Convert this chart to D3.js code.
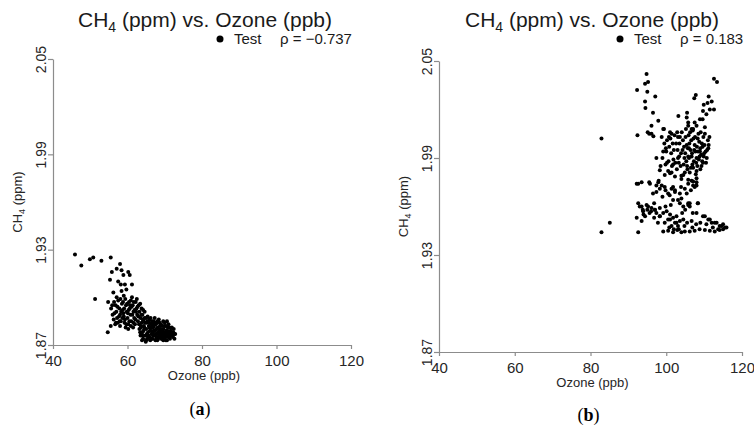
<!DOCTYPE html>
<html>
<head>
<meta charset="utf-8">
<script src="https://cdn.jsdelivr.net/npm/d3@7"></script>
<style>
  body { margin: 0; background: #fff; }
  svg { display: block; font-family: "Liberation Sans", Arial, sans-serif; }
</style>
</head>
<body>
<div id="chart"></div>
<script>
// tick values shared by both panels
const xTicks = [40, 60, 80, 100, 120];
const yTicks = [1.87, 1.93, 1.99, 2.05];

// (a) ozone vs CH4
const ozoneA = [
  45.9, 47.6, 49.9, 50.8, 53.0, 55.5, 58.0, 55.8, 57.1, 58.4, 58.9, 55.3, 60.2, 60.6, 61.2,
  58.2, 59.3, 56.2, 58.4, 59.7, 51.3, 54.8, 54.7, 55.5, 56.7, 58.0, 60.2, 57.5, 59.0,
  55.6, 56.0, 56.3, 56.8, 57.0, 57.2, 57.5, 57.8, 58.0, 58.2, 58.5, 58.7, 59.0, 59.2, 59.4,
  59.6, 59.8, 60.0, 60.2, 60.4, 60.6, 60.8, 61.0, 61.2, 61.4, 61.6, 61.8, 62.0, 62.2, 62.4,
  62.6, 62.8, 63.0, 63.2, 63.5, 63.8, 64.0, 64.3, 64.6, 65.0, 57.4, 59.5, 61.5, 58.8, 60.9,
  62.7, 56.5, 58.3, 60.1, 61.9,
  56.4, 56.9, 57.3, 57.7, 58.1, 58.6, 59.1, 59.3, 59.9, 60.3, 60.5, 60.9, 61.1, 61.3, 61.7,
  62.1, 62.3, 62.9, 63.1, 63.4, 63.6, 64.2, 57.9, 59.7, 61.6, 58.9, 60.7, 62.5, 55.9, 57.1,
  63.2, 63.5, 63.8, 64.0, 64.2, 64.4, 64.6, 64.8, 65.0, 65.1, 65.3, 65.5, 65.7, 65.9, 66.0,
  66.2, 66.4, 66.5, 66.7, 66.9, 67.0, 67.2, 67.4, 67.6, 67.7, 67.9, 68.1, 68.3, 68.5, 68.6,
  68.8, 69.0, 69.2, 69.3, 69.5, 69.7, 69.9, 70.1, 70.3, 70.5, 70.7, 70.9, 71.1, 71.3, 71.5,
  71.8, 72.0, 72.3, 72.5, 64.1, 65.4, 66.1, 67.3, 68.0, 69.6, 70.0, 63.7, 64.9, 66.8, 67.8,
  68.9, 69.8, 70.6, 71.0, 65.6, 66.3, 67.5, 68.4, 63.9,
  63.6, 64.3, 64.7, 65.2, 65.8, 66.0, 66.6, 66.9, 67.1, 67.6, 67.9, 68.2, 68.7, 69.1, 69.4,
  69.9, 70.2, 70.4, 70.8, 71.2, 71.6, 71.9, 72.2, 72.4, 65.0, 66.4, 67.0, 68.2, 69.0, 70.3,
  71.4, 64.5, 65.9, 67.4, 68.6, 69.2, 70.8, 66.2, 64.0, 63.4, 65.3, 68.0, 69.6, 71.7, 72.6,
  72.8, 66.8, 67.8, 69.4, 70.6
];
const ch4A = [
  1.927, 1.920, 1.924, 1.925, 1.923, 1.925, 1.921, 1.916, 1.918, 1.917, 1.914, 1.911, 1.916, 1.914, 1.908,
  1.908, 1.908, 1.903, 1.904, 1.905, 1.899, 1.897, 1.878, 1.882, 1.883, 1.882, 1.880, 1.910, 1.901,
  1.893, 1.889, 1.886, 1.895, 1.891, 1.887, 1.898, 1.893, 1.889, 1.885, 1.896, 1.892, 1.888, 1.884, 1.899,
  1.895, 1.891, 1.887, 1.883, 1.897, 1.893, 1.889, 1.885, 1.900, 1.895, 1.891, 1.887, 1.883, 1.897, 1.893,
  1.889, 1.885, 1.895, 1.891, 1.887, 1.893, 1.889, 1.885, 1.891, 1.887, 1.884, 1.881, 1.881, 1.897, 1.898,
  1.894, 1.890, 1.891, 1.890, 1.892,
  1.897, 1.884, 1.894, 1.888, 1.899, 1.887, 1.893, 1.886, 1.896, 1.892, 1.885, 1.882, 1.894, 1.889, 1.897,
  1.886, 1.891, 1.888, 1.883, 1.896, 1.881, 1.892, 1.885, 1.883, 1.884, 1.890, 1.895, 1.899, 1.895, 1.900,
  1.880, 1.876, 1.884, 1.878, 1.874, 1.882, 1.887, 1.876, 1.880, 1.884, 1.874, 1.878, 1.882, 1.886, 1.875,
  1.879, 1.883, 1.877, 1.874, 1.881, 1.885, 1.876, 1.879, 1.883, 1.874, 1.877, 1.881, 1.875, 1.879, 1.884,
  1.876, 1.874, 1.878, 1.882, 1.876, 1.880, 1.874, 1.878, 1.882, 1.876, 1.879, 1.875, 1.878, 1.881, 1.876,
  1.878, 1.876, 1.878, 1.877, 1.886, 1.888, 1.873, 1.887, 1.873, 1.873, 1.884, 1.889, 1.872, 1.878, 1.880,
  1.880, 1.877, 1.873, 1.883, 1.876, 1.881, 1.873, 1.886, 1.873,
  1.882, 1.879, 1.884, 1.877, 1.884, 1.879, 1.885, 1.876, 1.882, 1.877, 1.884, 1.878, 1.882, 1.876, 1.879,
  1.882, 1.875, 1.879, 1.881, 1.875, 1.879, 1.881, 1.875, 1.880, 1.873, 1.874, 1.879, 1.874, 1.883, 1.873,
  1.874, 1.881, 1.881, 1.884, 1.877, 1.875, 1.877, 1.887, 1.876, 1.878, 1.885, 1.885, 1.885, 1.877, 1.874,
  1.877, 1.883, 1.875, 1.874, 1.885
];

// (b) ozone vs CH4
const ozoneB = [
  94.8, 95.2, 94.4, 92.3, 95.0, 97.1, 94.4, 94.5, 112.6, 113.4, 107.8, 107.4, 111.2, 112.0, 110.9,
  109.9, 111.5, 112.6, 109.7, 110.6, 105.5, 103.2, 105.4, 105.8, 107.5, 108.9, 109.6, 108.0, 106.7, 110.2,
  96.5, 97.9, 96.1, 92.4, 95.1, 96.1, 99.2, 82.9, 97.4, 92.2, 93.5, 95.5, 97.4, 98.3, 99.8,
  100.5, 102.3, 105.4, 107.5, 108.0, 93.0, 93.8, 95.0, 96.0, 97.0, 98.3, 92.2, 94.4, 93.5, 101.8,
  103.6, 105.8, 108.3, 106.2, 98.3, 101.0, 102.7, 104.5, 106.7, 82.9, 85.1, 92.6, 109.7, 111.5, 112.8,
  114.1, 115.0, 115.9,
  100.2, 100.8, 101.3, 101.9, 102.2, 102.6, 103.0, 103.4, 103.8, 104.1, 104.4, 104.7, 105.0, 105.3, 105.6,
  105.9, 106.1, 106.4, 106.7, 106.9, 107.2, 107.5, 107.7, 108.0, 108.2, 108.5, 108.7, 109.0, 109.2, 109.5,
  109.8, 110.1, 110.4, 110.7, 111.0, 101.5, 102.8, 104.0, 106.2, 107.8, 100.0, 99.5, 98.8, 105.2, 107.0,
  103.6, 106.0, 108.4, 109.4, 104.8, 102.0, 103.3, 105.7, 107.3, 108.8, 110.0, 101.0, 99.0, 98.5, 100.5,
  95.5, 96.6, 99.4, 100.7, 101.4, 99.2, 99.9, 100.2, 101.4, 101.8, 104.0, 106.7, 109.7, 111.1, 105.8,
  107.1, 103.1, 98.3, 99.6, 101.0, 102.3, 104.5, 105.8, 107.1, 108.0,
  104.3, 104.6, 105.1, 105.4, 105.8, 106.3, 106.6, 106.8, 107.1, 107.4, 107.6, 107.9, 108.1, 108.3, 108.6,
  108.9, 109.1, 109.3, 109.6, 109.9, 110.2, 110.5, 110.8, 111.2, 111.4, 103.5, 103.9, 102.4, 101.7, 101.1,
  100.6, 99.8, 102.9, 104.9, 106.5, 108.0, 109.0, 105.5, 106.0, 103.1,
  92.6, 93.5, 93.9, 95.2, 96.1, 97.0, 97.4, 98.3, 99.2, 100.1, 101.0, 100.5, 101.8, 102.7, 102.3,
  101.4, 103.1, 103.6, 104.5, 105.8, 106.2, 108.4, 108.0, 110.2, 111.1, 112.0, 113.3, 114.6, 115.5,
  99.2, 100.5, 101.8, 102.9, 104.0, 104.9, 106.2, 107.5, 108.8, 110.2, 111.5, 112.8, 114.1, 115.0,
  94.0, 95.6, 96.8, 97.8, 99.6, 100.8, 102.0, 103.3, 104.8, 105.5, 106.9, 107.9, 109.0, 110.6, 112.3,
  113.7, 99.8, 101.2, 104.2, 105.0, 107.0, 96.8, 94.8,
  92.6, 95.7, 97.9, 98.8, 99.6, 101.4, 96.5, 97.4, 100.9, 102.3, 103.6, 104.9, 105.8, 107.1, 108.0,
  104.0, 103.1, 99.0, 101.8, 103.9, 106.5, 98.0
];
const ch4B = [
  2.042, 2.037, 2.036, 2.032, 2.031, 2.028, 2.025, 2.021, 2.039, 2.037, 2.029, 2.027, 2.028, 2.025, 2.024,
  2.023, 2.020, 2.020, 2.019, 2.017, 2.018, 2.016, 2.015, 2.012, 2.012, 2.014, 2.014, 2.010, 2.008, 2.009,
  2.018, 2.013, 2.010, 2.004, 2.006, 2.005, 2.008, 2.002, 1.990, 1.974, 1.975, 1.975, 1.973, 1.971, 1.970,
  1.968, 1.969, 1.968, 1.972, 1.973, 1.960, 1.958, 1.958, 1.957, 1.958, 1.959, 1.953, 1.954, 1.951, 1.964,
  1.962, 1.962, 1.962, 1.960, 1.954, 1.952, 1.950, 1.952, 1.951, 1.944, 1.950, 1.944, 1.954, 1.952, 1.950,
  1.948, 1.949, 1.947,
  2.001, 1.997, 1.993, 1.989, 2.004, 1.999, 1.995, 1.991, 1.985, 2.006, 2.001, 1.997, 1.993, 1.988, 1.983,
  2.004, 1.999, 1.995, 1.991, 1.986, 2.002, 1.998, 1.994, 1.990, 1.985, 2.005, 2.000, 1.996, 1.992, 1.988,
  2.003, 1.998, 1.994, 1.990, 2.001, 1.985, 1.983, 1.979, 1.981, 1.980, 1.994, 1.999, 2.003, 2.008, 2.007,
  2.003, 1.990, 1.994, 1.999, 1.990, 1.995, 1.987, 1.996, 1.988, 1.991, 1.993, 2.006, 1.990, 1.985, 1.982,
  2.005, 2.0035, 2.008, 2.003, 2.005, 1.994, 1.996, 1.987, 1.981, 1.986, 1.977, 1.976, 1.987, 1.996, 2.010,
  2.008, 2.003, 1.9825, 1.9795, 1.9805, 1.9785, 1.9795, 1.9765, 1.9755, 1.9775,
  1.995, 1.986, 2.003, 1.998, 1.991, 2.006, 2.001, 1.993, 1.984, 1.995, 2.003, 1.987, 1.997, 2.002, 1.989,
  1.994, 2.006, 1.985, 1.997, 1.991, 2.005, 1.987, 1.995, 1.998, 2.003, 1.999, 1.993, 1.987, 1.999, 2.002,
  1.988, 1.986, 2.006, 1.981, 1.984, 1.982, 1.983, 1.985, 1.996, 1.990,
  1.962, 1.960, 1.957, 1.960, 1.959, 1.958, 1.956, 1.954, 1.956, 1.957, 1.955, 1.952, 1.953, 1.954, 1.950,
  1.948, 1.948, 1.951, 1.960, 1.961, 1.962, 1.962, 1.956, 1.954, 1.952, 1.950, 1.950, 1.948, 1.947,
  1.9445, 1.9450, 1.9440, 1.9455, 1.9440, 1.9445, 1.9445, 1.9450, 1.9460, 1.9455, 1.9450, 1.9445, 1.9455, 1.9460,
  1.955, 1.956, 1.953, 1.950, 1.950, 1.947, 1.946, 1.946, 1.948, 1.950, 1.947, 1.949, 1.950, 1.949, 1.947,
  1.946, 1.960, 1.961, 1.956, 1.958, 1.956, 1.962, 1.961,
  1.974, 1.974, 1.975, 1.973, 1.972, 1.971, 1.968, 1.969, 1.967, 1.970, 1.968, 1.971, 1.974, 1.973, 1.975,
  1.965, 1.964, 1.966, 1.972, 1.972, 1.970, 1.976
];

const seriesName = "Test";
const rhoA = "\u03C1 = \u22120.737";
const rhoB = "\u03C1 = 0.183";

const W = 754, H = 425;
const svg = d3.select("#chart").append("svg")
    .attr("width", W)
    .attr("height", H);

const panels = [
  { ox: ozoneA, oy: ch4A, rho: rhoA, tag: "a",
    left: 53, right: 351, top: 59, bottom: 345, titleX: 205, legendX: 220, tagY: 415 },
  { ox: ozoneB, oy: ch4B, rho: rhoB, tag: "b",
    left: 439, right: 742, top: 61, bottom: 352, titleX: 592, legendX: 620, tagY: 421 }
];

panels.forEach(p => drawPanel(p));

function drawPanel(p) {
    const x = d3.scaleLinear().domain([40, 120]).range([p.left, p.right]);
    const y = d3.scaleLinear().domain([1.87, 2.05]).range([p.bottom, p.top]);
    const g = svg.append("g");

    // title with subscript
    const title = g.append("text")
        .attr("x", p.titleX)
        .attr("y", 27)
        .attr("text-anchor", "middle")
        .attr("font-size", 21)
        .attr("fill", "#1a1a1a");
    title.append("tspan").text("CH");
    title.append("tspan").attr("font-size", 14).attr("dy", 5).text("4");
    title.append("tspan").attr("dy", -5).text(" (ppm) vs. Ozone (ppb)");

    // x axis
    const xAxis = g.append("g")
        .attr("transform", `translate(0,${p.bottom})`)
        .call(d3.axisBottom(x).tickValues(xTicks).tickSize(4).tickSizeOuter(0).tickPadding(6));
    xAxis.select(".domain").attr("stroke", "#8c8c8c").attr("stroke-width", 1.2);
    xAxis.selectAll(".tick line").attr("stroke", "#8c8c8c").attr("stroke-width", 1.2);
    xAxis.selectAll(".tick text")
        .attr("font-size", 15)
        .attr("font-family", "Liberation Sans, Arial, sans-serif")
        .attr("fill", "#262626");

    // y axis, rotated labels
    const yAxis = g.append("g")
        .attr("transform", `translate(${p.left},0)`)
        .call(d3.axisLeft(y).tickValues(yTicks).tickSize(5).tickSizeOuter(0).tickFormat(d3.format(".2f")));
    yAxis.select(".domain").attr("stroke", "#8c8c8c").attr("stroke-width", 1.2);
    yAxis.selectAll(".tick line").attr("stroke", "#8c8c8c").attr("stroke-width", 1.2);
    yAxis.selectAll(".tick text")
        .attr("x", null).attr("dy", null)
        .attr("transform", "translate(-7,0) rotate(-90)")
        .attr("text-anchor", "middle")
        .attr("font-size", 14)
        .attr("font-family", "Liberation Sans, Arial, sans-serif")
        .attr("fill", "#262626");

    // axis titles
    g.append("text")
        .attr("x", (p.left + p.right) / 2 + 2)
        .attr("y", p.bottom + 35)
        .attr("text-anchor", "middle")
        .attr("font-size", 13)
        .attr("fill", "#262626")
        .text("Ozone (ppb)");

    const yl = g.append("text")
        .attr("transform", `translate(${p.left - 31},${(p.top + p.bottom) / 2}) rotate(-90)`)
        .attr("text-anchor", "middle")
        .attr("font-size", 13)
        .attr("fill", "#262626");
    yl.append("tspan").text("CH");
    yl.append("tspan").attr("font-size", 9).attr("dy", 3).text("4");
    yl.append("tspan").attr("dy", -3).text(" (ppm)");

    // points
    g.append("g")
        .selectAll("circle")
        .data(d3.zip(p.ox, p.oy))
        .join("circle")
        .attr("cx", d => x(d[0]))
        .attr("cy", d => y(d[1]))
        .attr("r", 2)
        .attr("fill", "#000");

    // legend
    g.append("circle")
        .attr("cx", p.legendX)
        .attr("cy", 39)
        .attr("r", 3.5)
        .attr("fill", "#000");
    g.append("text")
        .attr("x", p.legendX + 14)
        .attr("y", 44)
        .attr("font-size", 15)
        .attr("fill", "#1a1a1a")
        .text(seriesName);
    g.append("text")
        .attr("x", p.legendX + 60)
        .attr("y", 44)
        .attr("font-size", 15)
        .attr("fill", "#1a1a1a")
        .text(p.rho);

    // panel tag (a)/(b)
    const tag = g.append("text")
        .attr("x", (p.left + p.right) / 2 - 2)
        .attr("y", p.tagY)
        .attr("text-anchor", "middle")
        .attr("font-family", "Liberation Serif, Times New Roman, serif")
        .attr("font-size", 18)
        .attr("fill", "#000");
    tag.append("tspan").text("(");
    tag.append("tspan").attr("font-weight", "bold").text(p.tag);
    tag.append("tspan").text(")");
}
</script>
</body>
</html>
